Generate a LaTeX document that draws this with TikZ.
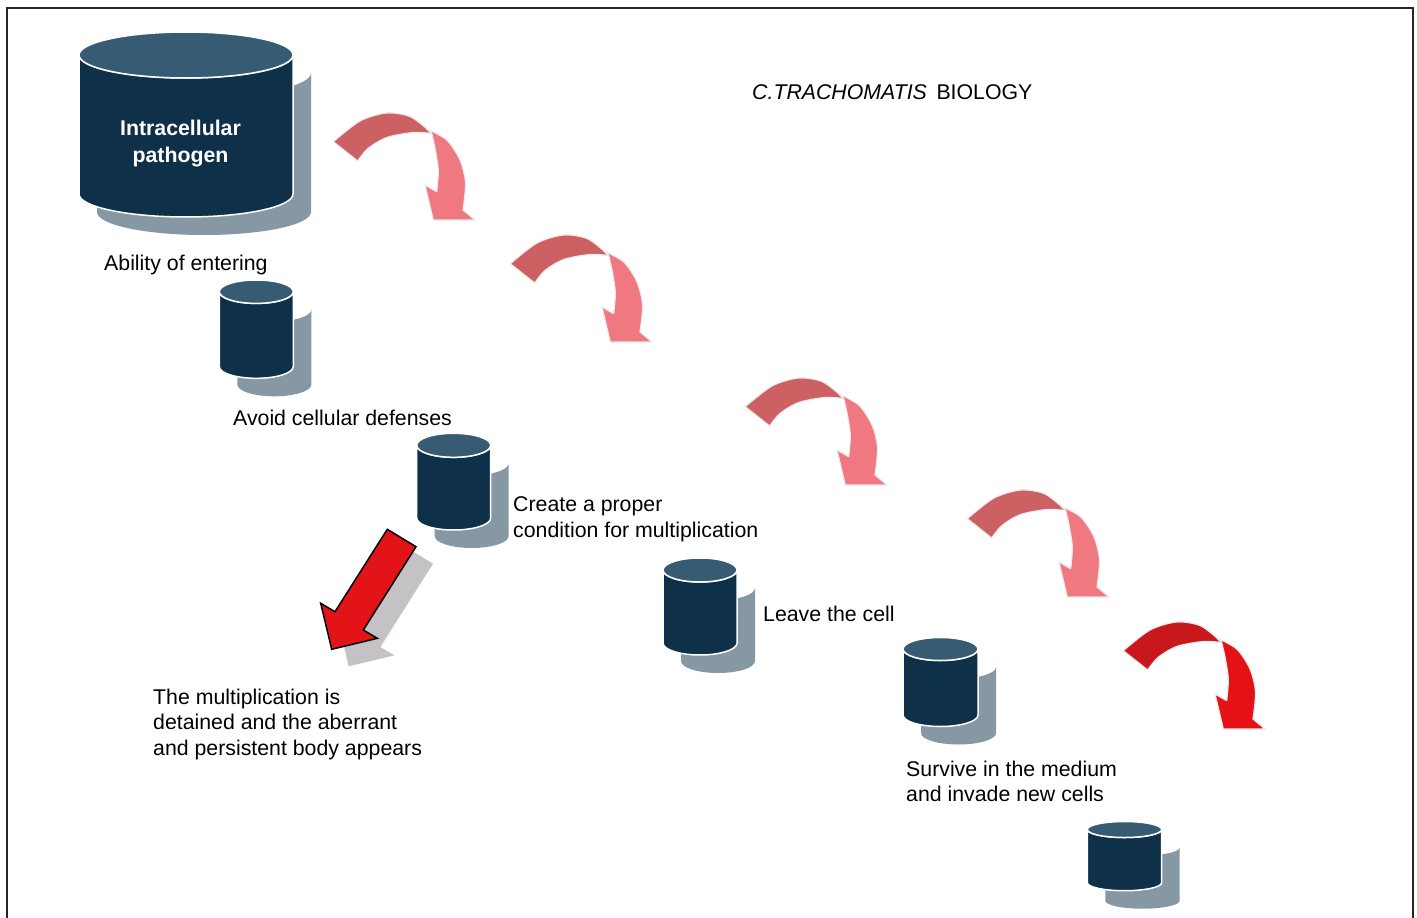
\documentclass[tikz,border=0pt]{standalone}
\usepackage{fontspec}
\setmainfont{Liberation Sans}
\definecolor{cylbody}{HTML}{0E3049}
\definecolor{cyltop}{HTML}{365B73}
\definecolor{cylshadow}{HTML}{8698A4}
\definecolor{arrdark}{HTML}{CD6062}
\definecolor{arrlight}{HTML}{F07880}
\definecolor{reddark}{HTML}{C8181C}
\definecolor{redlight}{HTML}{E41216}
\definecolor{bigred}{HTML}{E31418}
\definecolor{redshadow}{HTML}{C4C2C4}
\tikzset{
  cylbodystyle/.style={fill=cylbody, draw=white, line width=1.5pt},
  cyltopstyle/.style={fill=cyltop, draw=white, line width=1.5pt},
  cylshadowstyle/.style={fill=cylshadow},
  lbl/.style={anchor=base west, inner sep=0pt, font=\fontsize{21.3}{26}\selectfont, text=black},
  inlbl/.style={anchor=base, inner sep=0pt, font=\fontsize{21.3}{26}\selectfont\bfseries, text=white},
  arrowpart/.style={draw=white!92!black, line width=1.2pt, line join=round}
}
% cylinder: cx, top y, bottom y, rx, ry
\newcommand\mycyl[5]{%
  \begin{scope}[shift={(18,18)}]
    \fill[cylshadowstyle] (#1-#4,#2) -- (#1-#4,#3) arc[start angle=180,end angle=0,x radius=#4,y radius=#5] -- (#1+#4,#2) arc[start angle=0,end angle=180,x radius=#4,y radius=#5] -- cycle;
  \end{scope}
  \filldraw[cylbodystyle] (#1-#4,#2) -- (#1-#4,#3) arc[start angle=180,end angle=0,x radius=#4,y radius=#5] -- (#1+#4,#2) arc[start angle=0,end angle=180,x radius=#4,y radius=#5] -- cycle;
  \filldraw[cyltopstyle] (#1,#2) ellipse[x radius=#4,y radius=#5];
}
% curved arrow: origin, dark colour, light colour
\newcommand\mycurvarrow[3]{%
  \begin{scope}[shift={(#1)}]
    \filldraw[arrowpart, fill=#2] (0.3,28.7) -- plot[smooth] coordinates {(0.3,28.7) (27,8) (53.7,0) (77,3.5) (94,16)} -- (98.7,20.5) -- plot[smooth] coordinates {(98.7,20.5) (80,19.5) (53.7,24.5) (35,35.5) (24.7,48)} -- cycle;
    \filldraw[arrowpart, fill=#3] (94,16) -- plot[smooth] coordinates {(94,16) (113.7,27) (127,47) (132.5,70) (130,97)} -- (142,107) -- (100.3,107) -- (92,72) -- (103.7,78.7) -- plot[smooth] coordinates {(103.7,78.7) (105.3,57) (102,35) (98.7,20.5)} -- cycle;
  \end{scope}
}
\begin{document}
\begin{tikzpicture}[x=1pt,y=-1pt]
\useasboundingbox (0,0) rectangle (1417,918);
\fill[white] (0,0) rectangle (1417,918);
% frame
\draw[black!85, line width=1.5pt] (7,918) -- (7,8) -- (1413,8) -- (1413,918);

% title
\node[lbl] (title) at (752,99) {{\itshape C.TRACHOMATIS\/}\hspace{0.45em}BIOLOGY};

% cylinders
\mycyl{186}{55}{194}{107}{23}
\node[inlbl] (c1a) at (180.5,135) {Intracellular};
\node[inlbl] (c1b) at (180.5,162) {pathogen};
\mycyl{256.3}{291.7}{366.6}{37}{11.7}
\mycyl{453.7}{445.3}{518}{37}{12}
\mycyl{700}{570}{643}{37}{12}
\mycyl{940.5}{649}{715}{37.5}{11.5}
\mycyl{1124.5}{829.5}{882.7}{37.2}{8}

% curved arrows
\mycurvarrow{333,113}{arrdark}{arrlight}
\mycurvarrow{510,235}{arrdark}{arrlight}
\mycurvarrow{745,378}{arrdark}{arrlight}
\mycurvarrow{967,490}{arrdark}{arrlight}
\mycurvarrow{1123,622}{reddark}{redlight}

% straight red arrow with shadow
\begin{scope}[shift={(17,17)}]
  \fill[redshadow] (387.3,529.3) -- (416,546.7) -- (363.3,630) -- (377.3,638.3) -- (331.7,649.3) -- (320.7,603.3) -- (335,611.7) -- cycle;
\end{scope}
\filldraw[fill=bigred, draw=black, line width=1.5pt, line join=miter] (387.3,529.3) -- (416,546.7) -- (363.3,630) -- (377.3,638.3) -- (331.7,649.3) -- (320.7,603.3) -- (335,611.7) -- cycle;

% labels
\node[lbl] (t1) at (104,270) {Ability of entering};
\node[lbl] (t2) at (233,425) {Avoid cellular defenses};
\node[lbl] (t3a) at (513,511) {Create a proper};
\node[lbl] (t3b) at (513,537) {condition for multiplication};
\node[lbl] (t4) at (763,621) {Leave the cell};
\node[lbl] (t5a) at (153,704) {The multiplication is};
\node[lbl] (t5b) at (153,729.5) {detained and the aberrant};
\node[lbl] (t5c) at (153,755) {and persistent body appears};
\node[lbl] (t6a) at (906,776) {Survive in the medium};
\node[lbl] (t6b) at (906,801) {and invade new cells};
\end{tikzpicture}
\end{document}
